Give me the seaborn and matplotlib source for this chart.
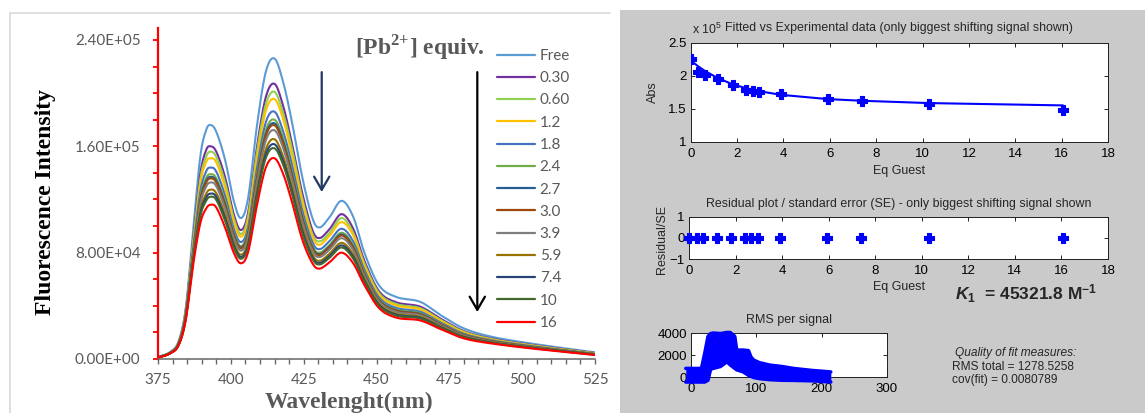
import numpy as np
import pandas as pd
import matplotlib
matplotlib.use("Agg")
import matplotlib.pyplot as plt
import seaborn as sns
from matplotlib.lines import Line2D
from matplotlib.patches import Rectangle
from matplotlib.ticker import MultipleLocator, FuncFormatter

# ---------------- emission spectra (intensity, x1e3 counts) ----------------
wavelength = [375, 379, 382, 384.5, 387, 389.5, 391.5, 393, 395, 398, 401, 403.5,
              406, 409, 412, 415, 418, 421, 424.5, 428, 430.5, 434, 438, 442,
              446, 451, 457, 465, 472, 480, 490, 505, 525]

spec_free = [1.5, 5, 13, 38, 95, 152, 172, 176, 171, 150, 119, 106, 122, 176, 216, 226,
             208, 178, 137, 106, 99, 107, 119, 107, 79, 55, 46.5, 43, 33, 23, 16.5, 11, 5]
spec_030 = [1.4, 4.7, 12.2, 35.7, 88.5, 139, 157, 160, 156, 137, 109, 97, 111, 160, 197, 207,
            190, 162, 125, 97, 91, 98, 109, 98, 73, 50.6, 42.5, 39.4, 30.3, 21.0, 15.2, 10.1, 4.5]
spec_060 = [1.3, 4.7, 12.0, 34.9, 86.5, 135, 152, 156, 152, 133, 106, 94, 108, 156, 191.5, 201,
            184.5, 158, 121, 94, 88.5, 95, 106, 95, 71, 49.2, 41.2, 38.2, 29.4, 20.5, 14.8, 9.8, 4.3]
spec_12 = [1.3, 4.6, 11.8, 34.3, 84.7, 131.5, 148, 151, 148, 129, 103, 92, 105, 151, 186.5, 195.5,
           180, 153, 118, 92, 86, 93, 103, 93, 69.2, 48, 40.1, 37.3, 28.7, 19.9, 14.4, 9.6, 4.2]
spec_18 = [1.2, 4.5, 11.4, 33.2, 81.8, 125.5, 141, 144, 141, 123, 98, 88, 100, 144, 178, 186,
           171, 146, 112, 88, 82.6, 89, 98, 88.5, 66.3, 46, 38.3, 35.6, 27.4, 19, 13.9, 9.2, 3.9]
spec_24 = [1.2, 4.4, 11.2, 32.5, 79.8, 121.5, 136, 139, 136, 119, 95, 85, 97, 139, 172, 180,
           166, 141, 108, 85, 80, 86, 95, 85.7, 64.4, 44.6, 37, 34.5, 26.6, 18.4, 13.5, 8.9, 3.8]
spec_27 = [1.2, 4.4, 11.1, 32.2, 78.8, 119.5, 133.7, 137, 134, 116.9, 93.7, 83.9, 95.4, 137, 169.2, 177.3,
           163.2, 139, 106.5, 83.9, 78.9, 84.9, 93.7, 84.3, 63.4, 44, 36.4, 33.9, 26.2, 18.1, 13.3, 8.7, 3.7]
spec_30 = [1.2, 4.3, 11, 32, 78.3, 118.5, 132.5, 135.8, 132.8, 115.8, 92.9, 83.2, 94.5, 135.8, 167.8, 175.8,
           161.8, 137.8, 105.5, 83.2, 78.2, 84.2, 92.9, 83.6, 62.9, 43.6, 36.1, 33.6, 26, 18, 13.2, 8.7, 3.7]
spec_39 = [1.1, 4.3, 10.8, 31.5, 77, 116, 129.5, 132.8, 130, 113.3, 90.9, 81.5, 92.5, 132.8, 164.2, 172,
           158.3, 134.8, 103.2, 81.5, 76.7, 82.5, 90.9, 81.8, 61.7, 42.8, 35.3, 32.9, 25.4, 17.6, 12.9, 8.5, 3.6]
spec_59 = [1.1, 4.2, 10.6, 30.7, 74.8, 111.5, 124.2, 127.4, 124.8, 108.7, 87.4, 78.5, 88.8, 127.4, 157.7, 165.3,
           152.1, 129.4, 98.9, 78.5, 73.9, 79.5, 87.4, 78.7, 59.6, 41.2, 33.9, 31.7, 24.5, 16.9, 12.5, 8.2, 3.4]
spec_74 = [1.1, 4.1, 10.4, 30.3, 73.5, 109, 121.3, 124.4, 122, 106.1, 85.5, 76.8, 86.7, 124.4, 154.1, 161.5,
           148.7, 126.4, 96.6, 76.8, 72.3, 77.8, 85.5, 76.9, 58.4, 40.4, 33.2, 31, 24, 16.6, 12.2, 8, 3.3]
spec_10 = [1.05, 4.1, 10.3, 29.9, 72.5, 107, 118.9, 122, 119.7, 104.1, 83.9, 75.4, 85.1, 122, 151.2, 158.5,
           145.9, 124, 94.7, 75.4, 71.1, 76.4, 83.9, 75.5, 57.4, 39.7, 32.5, 30.4, 23.6, 16.3, 12, 7.9, 3.2]
spec_16 = [1, 4, 10, 29, 70, 102, 113, 116, 114, 99, 80, 72, 81, 116, 144, 151,
           139, 118, 90, 72, 68, 73, 80, 72, 55, 38, 31, 29, 22.5, 15.5, 11.5, 7.5, 3]

equiv_labels = ["Free", "0.30", "0.60", "1.2", "1.8", "2.4", "2.7", "3.0",
                "3.9", "5.9", "7.4", "10", "16"]
line_colors = ["#5B9BD5", "#7030A0", "#92D050", "#FFC000", "#4472C4", "#70AD47",
               "#255E91", "#9E480E", "#7F7F7F", "#997300", "#264478", "#43682B", "#FF0000"]
spectra_rows = [spec_free, spec_030, spec_060, spec_12, spec_18, spec_24, spec_27,
                spec_30, spec_39, spec_59, spec_74, spec_10, spec_16]

# ---------------- binding fit (peak at 415 nm, x1e5) ----------------
eq_guest = [0, 0.33, 0.62, 1.19, 1.81, 2.39, 2.67, 2.96, 3.9, 5.93, 7.4, 10.3, 16.06]
abs_exp = [2.247, 2.06, 2.01, 1.95, 1.854, 1.79, 1.77, 1.76, 1.72, 1.64, 1.62, 1.57, 1.48]
abs_fit = [2.23, 2.14, 2.07, 1.96, 1.87, 1.81, 1.785, 1.765, 1.71, 1.645, 1.62, 1.585, 1.55]
residual_se = [0, 0, 0, 0, 0, 0, 0, 0, 0, 0, 0, 0, 0]

# ---------------- RMS per signal envelope ----------------
rms_signal = [-8, 16, 21, 26, 30, 34, 45, 55, 60, 67, 70, 80, 88, 92, 96, 105, 121, 140, 157, 185, 214]
rms_upper = [780, 780, 2160, 3690, 3950, 4000, 3950, 4050, 4050, 3700, 2450, 2450, 2400, 1800,
             1540, 1300, 1080, 950, 780, 600, 460]
rms_lower = [-460, -460, -460, -300, 700, 780, 950, 1380, 1100, 780, 650, 460, 150, 50,
             -50, -150, -250, -300, -310, -350, -460]

W, H = 1145, 413


def box(left, top, right, bottom):
    """Pixel rectangle -> figure fraction [x0, y0, w, h]."""
    return [left / W, 1 - bottom / H, (right - left) / W, (bottom - top) / H]


def smooth_line(x, y, steps=10):
    """Catmull-Rom path through the points (smoothed-line rendering)."""
    x = np.asarray(x, float)
    y = np.asarray(y, float)
    px = np.concatenate([[2 * x[0] - x[1]], x, [2 * x[-1] - x[-2]]])
    py = np.concatenate([[2 * y[0] - y[1]], y, [2 * y[-1] - y[-2]]])
    t = np.linspace(0, 1, steps, endpoint=False)[None, :]

    def seg(p):
        p0, p1, p2, p3 = p[:-3, None], p[1:-2, None], p[2:-1, None], p[3:, None]
        return 0.5 * (2 * p1 + (-p0 + p2) * t + (2 * p0 - 5 * p1 + 4 * p2 - p3) * t ** 2
                      + (-p0 + 3 * p1 - 3 * p2 + p3) * t ** 3)

    sx = np.append(seg(px).ravel(), x[-1])
    sy = np.append(seg(py).ravel(), y[-1])
    return sx, sy


sns.set_style("white")
plt.rcParams["font.family"] = ["Lato", "DejaVu Sans"]
plt.rcParams["mathtext.fontset"] = "custom"
plt.rcParams["mathtext.rm"] = "Liberation Sans"
plt.rcParams["mathtext.bf"] = "Liberation Serif:bold"
plt.rcParams["mathtext.sf"] = "Liberation Sans:bold"
plt.rcParams["mathtext.it"] = "Liberation Sans:italic"
plt.rcParams["mathtext.bfit"] = "Liberation Sans:italic:bold"

fig = plt.figure(figsize=(W / 100, H / 100), dpi=100)

# grey panel of the fitting window and frame of the spectrum chart
fig.add_artist(Rectangle((620 / W, 0), 1 - 620 / W, 1 - 10 / H, transform=fig.transFigure,
                         facecolor="#cacaca", edgecolor="none", zorder=-10))
fig.add_artist(Line2D([10 / W, 10 / W, 610 / W], [0, 1 - 13 / H, 1 - 13 / H],
                      transform=fig.transFigure, color="#d9d9d9", lw=1.2, zorder=-9))

# ================= left: fluorescence titration =================
ax = fig.add_axes(box(158, 28, 595, 359))
frames = []
for lab, row in zip(equiv_labels, spectra_rows):
    sx, sy = smooth_line(wavelength, row)
    frames.append(pd.DataFrame({"wavelength": sx, "intensity": sy * 1e3, "equiv": lab}))
spectra = pd.concat(frames, ignore_index=True)

sns.lineplot(data=spectra, x="wavelength", y="intensity", hue="equiv", hue_order=equiv_labels,
             palette=dict(zip(equiv_labels, line_colors)), estimator=None, sort=False,
             linewidth=1.5, legend=False, ax=ax)
ax.set_xlim(375, 525)
ax.set_ylim(0, 2.49e5)
ax.set_xlabel("")
ax.set_ylabel("")
for s in ("top", "right"):
    ax.spines[s].set_visible(False)
ax.spines["left"].set_color("red")
ax.spines["left"].set_linewidth(1.6)
ax.spines["bottom"].set_color("#666666")
ax.spines["bottom"].set_linewidth(1.1)

ax.yaxis.set_major_locator(MultipleLocator(8e4))
ax.yaxis.set_minor_locator(MultipleLocator(2e4))
ax.yaxis.set_major_formatter(FuncFormatter(lambda v, p: f"{v:.2E}"))
ax.xaxis.set_major_locator(MultipleLocator(25))
ax.xaxis.set_minor_locator(MultipleLocator(5))
ax.tick_params(axis="y", which="both", direction="out", length=3.6, width=1.3,
               color="red", labelcolor="#595959", labelsize=11, pad=9, left=True)
ax.tick_params(axis="x", which="both", direction="out", length=3.6, width=1.0,
               color="#666666", labelcolor="#595959", labelsize=11, pad=6.5, bottom=True)

fig.text(46 / W, 1 - 202 / H, "Fluorescence Intensity", rotation=90, ha="center", va="center",
         family="Liberation Serif", weight="bold", size=17, color="black")
fig.text(349 / W, 1 - 402 / H, "Wavelenght(nm)", ha="center", va="center",
         family="Liberation Serif", weight="bold", size=17, color="#595959")
fig.text(420 / W, 1 - 47 / H, r"[Pb$^{\mathbf{2{+}}}$] equiv.", ha="center", va="center",
         family="Liberation Serif", weight="bold", size=17, color="#595959")

arrow_style = dict(arrowstyle="->,head_length=0.95,head_width=0.55", lw=1.6,
                   shrinkA=0, shrinkB=0, mutation_scale=10)
ax.annotate("", xy=(431.2, 1.256e5), xytext=(431.2, 2.158e5),
            arrowprops=dict(color="#203864", **arrow_style))
ax.annotate("", xy=(484.6, 3.53e4), xytext=(484.6, 2.158e5),
            arrowprops=dict(color="black", **arrow_style))

handles = [Line2D([], [], color=c, lw=1.6) for c in line_colors]
leg = ax.legend(handles, equiv_labels, loc="upper left", bbox_to_anchor=(497 / W, 1 - 49 / H),
                bbox_transform=fig.transFigure, frameon=False, fontsize=11, handlelength=2.5,
                handletextpad=0.3, labelspacing=0.54, borderpad=0, borderaxespad=0)
for t in leg.get_texts():
    t.set_color("#595959")

# ================= right: fitting results =================
BLUE = "#0000ff"
SANS = "Liberation Sans"


def matlab_axes(a):
    a.set_facecolor("white")
    for s in a.spines.values():
        s.set_visible(True)
        s.set_color("#202020")
        s.set_linewidth(0.7)
    a.tick_params(which="both", direction="in", top=True, right=True, bottom=True, left=True,
                  length=3, width=0.6, labelsize=9.5, labelfontfamily=SANS, colors="black")
    a.tick_params(axis="x", pad=4.5)
    a.tick_params(axis="y", pad=3)
    a.set_xlabel("")
    a.set_ylabel("")


# fitted vs experimental
ax1 = fig.add_axes(box(690.7, 42.7, 1108, 141.7))
sns.lineplot(x=eq_guest, y=abs_fit, color=BLUE, linewidth=1.5, ax=ax1, estimator=None, sort=False)
sns.scatterplot(x=eq_guest, y=abs_exp, color=BLUE, marker="P", s=50, edgecolor=BLUE,
                linewidth=0.8, ax=ax1, zorder=3)
ax1.set_xlim(0, 18)
ax1.set_ylim(1, 2.5)
ax1.set_xticks(range(0, 19, 2))
ax1.set_yticks([1, 1.5, 2, 2.5])
ax1.yaxis.set_major_formatter(FuncFormatter(lambda v, p: f"{v:g}"))
matlab_axes(ax1)
fig.text(899 / W, 1 - 28 / H, "Fitted vs Experimental data (only biggest shifting signal shown)",
         ha="center", va="center", family=SANS, size=8.9)
fig.text(692 / W, 1 - 29 / H, r"x 10$^{5}$", ha="left", va="center", family=SANS, size=8.9)
fig.text(899 / W, 1 - 171 / H, "Eq Guest", ha="center", va="center", family=SANS, size=9)
fig.text(653 / W, 1 - 92 / H, "Abs", rotation=90, ha="center", va="center", family=SANS, size=9)

# residuals
ax2 = fig.add_axes(box(689, 216.7, 1108, 259))
sns.scatterplot(x=eq_guest, y=residual_se, color=BLUE, marker="P", s=50, edgecolor=BLUE,
                linewidth=0.8, ax=ax2, zorder=3, clip_on=False)
ax2.set_xlim(0, 18)
ax2.set_ylim(-1, 1)
ax2.set_xticks(range(0, 19, 2))
ax2.set_yticks([-1, 0, 1])
matlab_axes(ax2)
fig.text(899 / W, 1 - 204 / H, "Residual plot / standard error (SE) - only biggest shifting signal shown",
         ha="center", va="center", family=SANS, size=8.9)
fig.text(899 / W, 1 - 287 / H, "Eq Guest", ha="center", va="center", family=SANS, size=9)
fig.text(661.5 / W, 1 - 239 / H, "Residual/SE", rotation=90, ha="center", va="center",
         family=SANS, size=9)

# RMS per signal
ax3 = fig.add_axes(box(691, 333, 887, 377))
ax3.fill_between(rms_signal, rms_lower, rms_upper, color=BLUE, linewidth=0, clip_on=False, zorder=3)
sns.lineplot(x=rms_signal, y=rms_upper, color=BLUE, linewidth=2.5, ax=ax3, estimator=None,
             sort=False, clip_on=False, zorder=3)
sns.lineplot(x=rms_signal, y=rms_lower, color=BLUE, linewidth=2.5, ax=ax3, estimator=None,
             sort=False, clip_on=False, zorder=3)
ax3.set_xlim(0, 300)
ax3.set_ylim(0, 4000)
ax3.set_xticks([0, 100, 200, 300])
ax3.set_yticks([0, 2000, 4000])
matlab_axes(ax3)
fig.text(789 / W, 1 - 320 / H, "RMS per signal", ha="center", va="center", family=SANS, size=9)

# binding constant and fit quality
fig.text(955 / W, 1 - 300 / H, r"$\mathbfit{K}_{\mathsf{1}}$  = 45321.8 M$^{\mathsf{-1}}$",
         ha="left", va="baseline", family=SANS, weight="bold", size=12.5)
fig.text(955 / W, 1 - 353 / H, "Quality of fit measures:", ha="left", va="center",
         family=SANS, style="italic", size=8.6)
fig.text(952 / W, 1 - 367 / H, "RMS total = 1278.5258", ha="left", va="center", family=SANS, size=8.6)
fig.text(952 / W, 1 - 380 / H, "cov(fit) = 0.0080789", ha="left", va="center", family=SANS, size=8.6)

fig.savefig("out.png", dpi=100)
